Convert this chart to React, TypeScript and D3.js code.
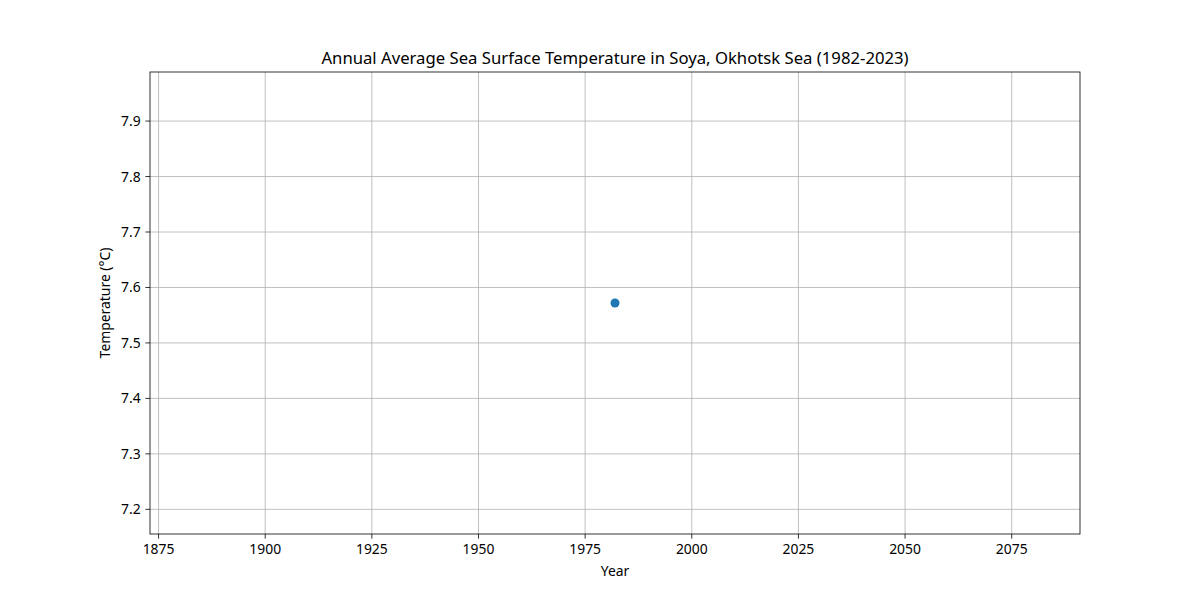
import React from "react";
import * as d3 from "d3";

const years: number[] = [1982];
const temps: number[] = [7.572];
const xTicks: number[] = [1875, 1900, 1925, 1950, 1975, 2000, 2025, 2050, 2075];
const yTicks: number[] = [7.2, 7.3, 7.4, 7.5, 7.6, 7.7, 7.8, 7.9];
const titleText = "Annual Average Sea Surface Temperature in Soya, Okhotsk Sea (1982-2023)";
const xLabel = "Year";
const yLabel = "Temperature (°C)";

const W = 1200, H = 600;
const L = 150, R = 1080, T = 72, B = 534;
const font = "'Noto Sans', sans-serif";

export default function App() {
  const x0 = years[0], y0 = temps[0];
  const xHalf = Math.abs(x0) * 0.05 * 1.1;
  const yHalf = Math.abs(y0) * 0.05 * 1.1;
  const x = d3.scaleLinear().domain([x0 - xHalf, x0 + xHalf]).range([L, R]);
  const y = d3.scaleLinear().domain([y0 - yHalf, y0 + yHalf]).range([B, T]);
  return (
    <svg width={W} height={H} style={{ position: "absolute", left: 0, top: 0 }} fontFamily={font}>
      <rect x={0} y={0} width={W} height={H} fill="#fff" />
      {xTicks.map((t) => (
        <g key={"x" + t}>
          <line x1={x(t)} x2={x(t)} y1={T} y2={B} stroke="#b0b0b0" strokeWidth={0.8} />
          <line x1={x(t)} x2={x(t)} y1={B} y2={B + 4.67} stroke="#000" strokeWidth={0.8} />
          <text x={x(t)} y={554} textAnchor="middle" fontSize={13.9} fill="#000">{t}</text>
        </g>
      ))}
      {yTicks.map((t) => (
        <g key={"y" + t}>
          <line x1={L} x2={R} y1={y(t)} y2={y(t)} stroke="#b0b0b0" strokeWidth={0.8} />
          <line x1={L - 4.67} x2={L} y1={y(t)} y2={y(t)} stroke="#000" strokeWidth={0.8} />
          <text x={140.7} y={y(t)} dy="0.36em" textAnchor="end" fontSize={13.9} fill="#000">{t.toFixed(1)}</text>
        </g>
      ))}
      {years.map((yr, i) => (
        <circle key={yr} cx={x(yr)} cy={y(temps[i])} r={4.5} fill="#1f77b4" />
      ))}
      <rect x={L} y={T} width={R - L} height={B - T} fill="none" stroke="#000" strokeWidth={0.8} />
      <text x={(L + R) / 2} y={64} textAnchor="middle" fontSize={16.7} fill="#000">{titleText}</text>
      <text x={(L + R) / 2} y={576} textAnchor="middle" fontSize={13.9} fill="#000">{xLabel}</text>
      <text transform={`translate(110,${(T + B) / 2}) rotate(-90)`} textAnchor="middle" fontSize={13.9} fill="#000">{yLabel}</text>
    </svg>
  );
}
